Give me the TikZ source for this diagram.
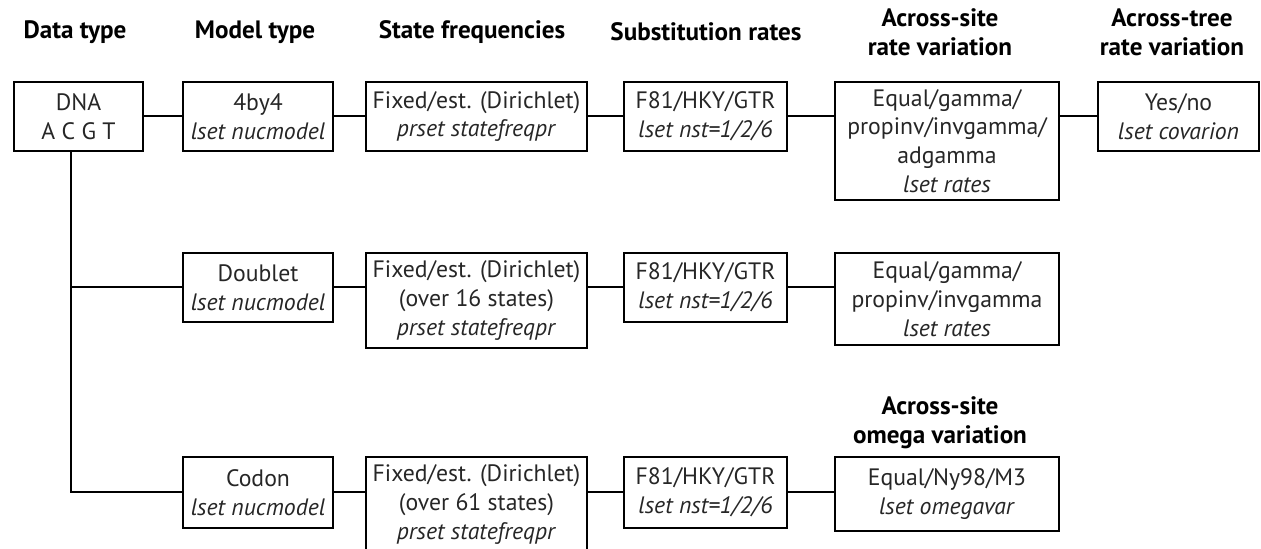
\documentclass[tikz,border=0pt]{standalone}
\usepackage{fontspec}
\setmainfont{PT Sans}
\usetikzlibrary{positioning}

\begin{document}
\begin{tikzpicture}[
  line width=1.1pt,
  box/.style={draw,anchor=north,align=center,inner sep=2pt,minimum height=1.38cm,
    font=\fontsize{13.5}{16.4}\selectfont,text=black!85},
  head/.style={align=center,font=\fontsize{14.3}{16.6}\selectfont\bfseries}
]
\useasboundingbox (0,0) rectangle (25.22,-10.98);

% column headers
\node[head] (hdata) at (1.50,-0.64) {Data type};
\node[head] (hmodel) at (5.10,-0.64) {Model type};
\node[head] (hfreq) at (9.44,-0.64) {State frequencies};
\node[head] (hsubst) at (14.12,-0.64) {Substitution rates};
\node[head] (hsite) at (18.80,-0.64) {Across-site\\rate variation};
\node[head] (htree) at (23.44,-0.64) {Across-tree\\rate variation};

% first row: 4by4
\node[box,minimum width=2.58cm] (dna) at (1.57,-1.62) {DNA\\A C G T};
\node[box,minimum width=3.00cm] (m1) at (5.16,-1.62) {4by4\\\textit{lset nucmodel}};
\node[box,minimum width=4.42cm] (f1) at (9.53,-1.62) {Fixed/est. (Dirichlet)\\\textit{prset statefreqpr}};
\node[box,minimum width=3.26cm] (s1) at (14.11,-1.62) {F81/HKY/GTR\\\textit{lset nst=1/2/6}};
\node[box,minimum width=4.48cm,minimum height=2.36cm] (r1) at (18.94,-1.62) {Equal/gamma/\\propinv/invgamma/\\adgamma\\\textit{lset rates}};
\node[box,minimum width=3.22cm] (c1) at (23.57,-1.62) {Yes/no\\\textit{lset covarion}};

% second row: doublet
\node[box,minimum width=3.00cm] (m2) at (5.16,-5.04) {Doublet\\\textit{lset nucmodel}};
\node[box,minimum width=4.42cm,minimum height=1.90cm] (f2) at (9.53,-5.04) {Fixed/est. (Dirichlet)\\(over 16 states)\\\textit{prset statefreqpr}};
\node[box,minimum width=3.26cm] (s2) at (14.11,-5.04) {F81/HKY/GTR\\\textit{lset nst=1/2/6}};
\node[box,minimum width=4.48cm,minimum height=1.84cm] (r2) at (18.94,-5.04) {Equal/gamma/\\propinv/invgamma\\\textit{lset rates}};

% third row: codon
\node[box,minimum width=3.00cm,minimum height=1.42cm] (m3) at (5.16,-9.12) {Codon\\\textit{lset nucmodel}};
\node[box,minimum width=4.42cm,minimum height=1.90cm] (f3) at (9.53,-9.12) {Fixed/est. (Dirichlet)\\(over 61 states)\\\textit{prset statefreqpr}};
\node[box,minimum width=3.26cm,minimum height=1.42cm] (s3) at (14.11,-9.12) {F81/HKY/GTR\\\textit{lset nst=1/2/6}};
\node[box,minimum width=4.48cm,minimum height=1.48cm] (w3) at (18.94,-9.12) {Equal/Ny98/M3\\\textit{lset omegavar}};
\node[head,above=0pt of w3,xshift=-0.14cm] (hw3) {Across-site\\omega variation};

\coordinate (trunk) at (1.42,-3);

\draw (dna) -- (m1);
\draw (m1) -- (f1);
\draw (f1) -- (s1);
\draw (s1.east) -- (s1.east -| r1.west);
\draw (r1.east |- c1.west) -- (c1.west);

\draw (dna.south -| trunk) |- (m3.west);
\draw (m2.west) -- (m2.west -| trunk);

\draw (m2.east) -- (m2.east -| f2.west);
\draw (f2.east |- s2.west) -- (s2.west);
\draw (s2.east) -- (s2.east -| r2.west);

\draw (m3.east) -- (m3.east -| f3.west);
\draw (f3.east |- s3.west) -- (s3.west);
\draw (s3.east) -- (s3.east -| w3.west);

\end{tikzpicture}
\end{document}
